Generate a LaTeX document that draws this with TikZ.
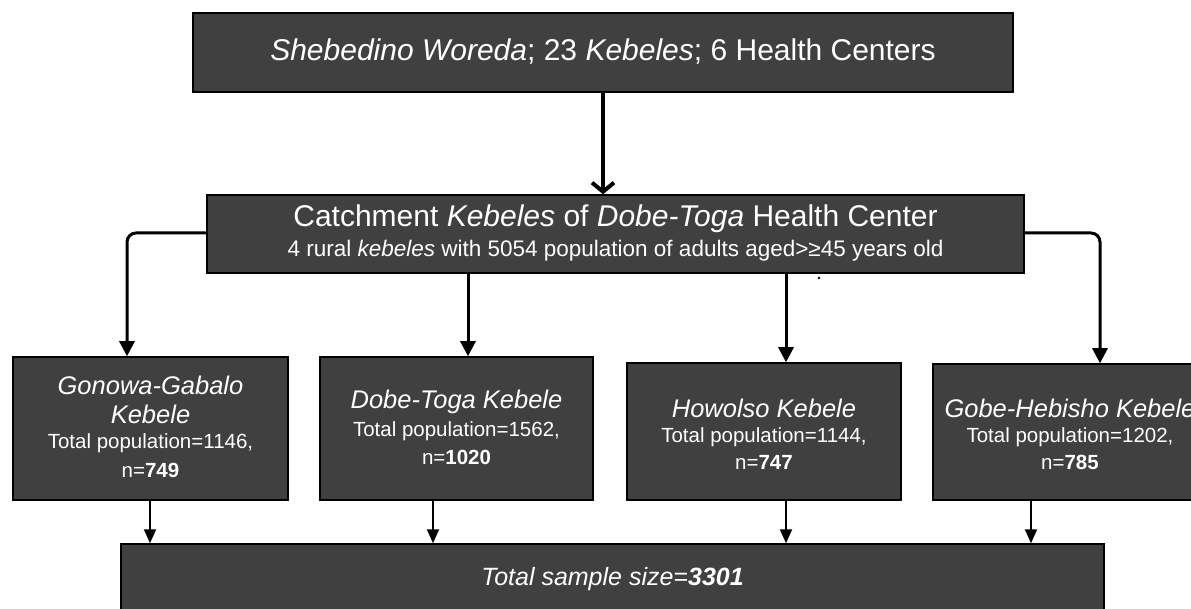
\documentclass[tikz,border=0pt]{standalone}
\usepackage{fontspec}
\setmainfont{Liberation Sans}
\usetikzlibrary{arrows.meta}
\definecolor{boxfill}{RGB}{64,64,64}
\begin{document}
\begin{tikzpicture}[x=1pt,y=-1pt,
  box/.style={draw=black, line width=1.5pt, fill=boxfill, inner sep=0pt},
  lbl/.style={text=white, inner sep=0pt, anchor=center},
  ttl/.style={lbl, font=\fontsize{25.5}{29}\selectfont\itshape},
  txt/.style={lbl, font=\fontsize{20.5}{24}\selectfont},
  toparrow/.style={line width=4pt, -{Straight Barb[length=9pt,width=22pt]}},
  midarrow/.style={line width=3pt, rounded corners=9pt, -{Triangle[length=15pt,width=15pt]}},
  botarrow/.style={line width=2pt, -{Triangle[length=14pt,width=12pt]}}
]
\useasboundingbox (0,0) rectangle (1191,609);
\clip (0,0) rectangle (1191,609);

% boxes
\node[box, minimum width=820pt, minimum height=79pt] (top) at (603,52.5) {};
\node[box, minimum width=817pt, minimum height=78pt] (mid) at (615.5,234) {};
\node[box, minimum width=275pt, minimum height=143pt] (gon) at (150.5,428.5) {};
\node[box, minimum width=273pt, minimum height=143pt] (dob) at (456.5,428.5) {};
\node[box, minimum width=274pt, minimum height=137pt] (how) at (764,431.5) {};
\node[box, minimum width=274pt, minimum height=136pt] (gob) at (1070,432) {};
\node[box, minimum width=983pt, minimum height=72pt] (tot) at (612.5,580) {};

% texts
\node[lbl, font=\fontsize{30}{34}\selectfont] (topt) at (603,52)
  {\textit{Shebedino Woreda}; 23 \textit{Kebeles}; 6 Health Centers};
\node[lbl, font=\fontsize{30}{34}\selectfont] (midt1) at (615.5,219)
  {Catchment \textit{Kebeles} of \textit{Dobe-Toga} Health Center};
\node[lbl, font=\fontsize{22.5}{26}\selectfont] (midt2) at (615.5,251)
  {4 rural \textit{kebeles} with 5054 population of adults aged>≥45 years old};

\node[ttl] (gon1) at (150.5,385) {Gonowa-Gabalo};
\node[ttl] (gon2) at (150.5,414) {Kebele};
\node[txt] (gon3) at (150.5,443) {Total population=1146,};
\node[txt] (gon4) at (150.5,470) {n=\textbf{749}};

\node[ttl] (dob1) at (456.5,402) {Dobe-Toga Kebele};
\node[txt] (dob2) at (456.5,431) {Total population=1562,};
\node[txt] (dob3) at (456.5,457) {n=\textbf{1020}};

\node[ttl] (how1) at (764,408) {Howolso Kebele};
\node[txt] (how2) at (764,437) {Total population=1144,};
\node[txt] (how3) at (764,462) {n=\textbf{747}};

\node[ttl] (gob1) at (1070,408) {Gobe-Hebisho Kebele};
\node[txt] (gob2) at (1070,437) {Total population=1202,};
\node[txt] (gob3) at (1070,462) {n=\textbf{785}};

\node[lbl, font=\fontsize{25}{29}\selectfont\itshape] (tott) at (612.5,579)
  {Total sample size=\textbf{3301}};

% helper coordinates for connector x positions
\coordinate (xl) at (127,233);
\coordinate (xr) at (1100,233);
\coordinate (x2) at (468,0);
\coordinate (x3) at (786,0);
\coordinate (b1) at (150,0);
\coordinate (b2) at (433,0);
\coordinate (b3) at (786,0);
\coordinate (b4) at (1031,0);

\draw[toparrow] (top.south) -- (top.south |- mid.north);

\draw[midarrow] (mid.west |- xl) -- (xl) -- (xl |- gon.north);
\draw[midarrow] (mid.east |- xr) -- (xr) -- (xr |- gob.north);
\draw[midarrow] (mid.south -| x2) -- (dob.north -| x2);
\draw[midarrow] (mid.south -| x3) -- (how.north -| x3);

\draw[botarrow] (gon.south -| b1) -- (tot.north -| b1);
\draw[botarrow] (dob.south -| b2) -- (tot.north -| b2);
\draw[botarrow] (how.south -| b3) -- (tot.north -| b3);
\draw[botarrow] (gob.south -| b4) -- (tot.north -| b4);

\fill (819,278) circle (1.3pt);
\end{tikzpicture}
\end{document}
